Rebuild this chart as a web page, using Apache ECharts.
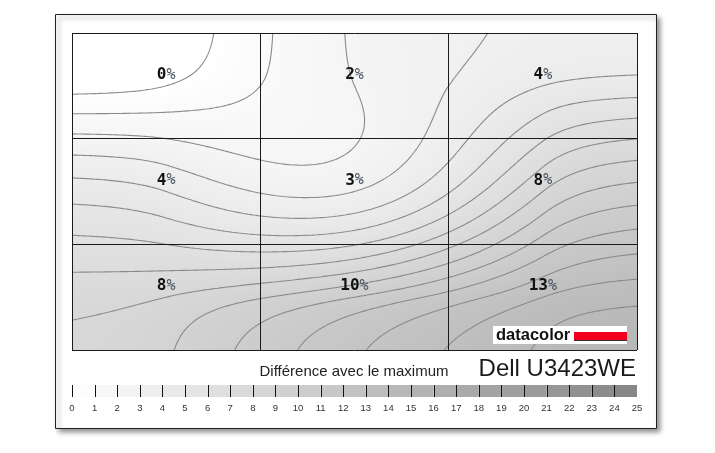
<!DOCTYPE html>
<html><head><meta charset="utf-8">
<script src="https://cdn.jsdelivr.net/npm/echarts@6/dist/echarts.min.js"></script>
<style>html,body{margin:0;padding:0;background:#fff}#c{width:715px;height:453px}</style>
</head><body><div id="c"></div>
<script>
// ---- data ----
const columnNames = ['Gauche', 'Centre', 'Droite'];
const rowNames = ['Haut', 'Milieu', 'Bas'];
const rowTop = [0, 2, 4];
const rowMiddle = [4, 3, 8];
const rowBottom = [8, 10, 13];
const contourLevels = [0, 1, 2, 3, 4, 5, 6, 7, 8, 9, 10, 11, 12, 13, 14, 15];
const scaleTicks = [0, 1, 2, 3, 4, 5, 6, 7, 8, 9, 10, 11, 12, 13, 14, 15, 16, 17, 18, 19, 20, 21, 22, 23, 24, 25];
const scaleSteps = [0, 1, 2, 3, 4, 5, 6, 7, 8, 9, 10, 11, 12, 13, 14, 15, 16, 17, 18, 19, 20, 21, 22, 23, 24];
const titleText = 'Différence avec le maximum';
const modelText = 'Dell U3423WE';
const brandText = 'datacolor';

const table = [rowTop, rowMiddle, rowBottom];
const cellData = [];
table.forEach((row, r) => row.forEach((v, c) => cellData.push([c, r, v])));

// smooth surface through the 9 measured cell centres (rendering only):
// natural cubic spline per axis, smoothly saturating extrapolation to the edges
const SAT = 0.25;
function sat(t) { return SAT * (1 - Math.exp(-t / SAT)); } // t >= 0, slope 1 at 0
function interp(y, x) {
  const t = x - 0.5;
  const M = 1.5 * (y[0] - 2 * y[1] + y[2]);
  if (t < 0) { const s0 = (y[1] - y[0]) - M / 6; return y[0] - s0 * sat(-t); }
  if (t > 2) { const s2 = (y[2] - y[1]) + M / 6; return y[2] + s2 * sat(t - 2); }
  if (t <= 1) return (1 - t) * y[0] + t * y[1] + (M / 6) * (t * t * t - t);
  const u = 1 - (t - 1);
  return u * y[1] + (1 - u) * y[2] + (M / 6) * (u * u * u - u);
}
function field(x, y) {
  return interp([interp(table[0], x), interp(table[1], x), interp(table[2], x)], y);
}
function grayOf(v) { return Math.max(0, Math.min(255, Math.round(255 - 4.9 * v))); }

function renderCell(params, api) {
  const c = api.value(0), r = api.value(1);
  const p0 = api.coord([c, r]), p1 = api.coord([c + 1, r + 1]);
  const x = Math.round(p0[0]), y = Math.round(p0[1]);
  const w = Math.round(p1[0]) - x, h = Math.round(p1[1]) - y;
  const cv = document.createElement('canvas'); cv.width = w; cv.height = h;
  const ctx = cv.getContext('2d'); const img = ctx.createImageData(w, h);
  for (let j = 0; j < h; j++) for (let i = 0; i < w; i++) {
    const g = grayOf(field(c + (i + 0.5) / w, r + (j + 0.5) / h));
    const k = (j * w + i) * 4; img.data[k] = g; img.data[k + 1] = g; img.data[k + 2] = g; img.data[k + 3] = 255;
  }
  ctx.putImageData(img, 0, 0);
  return { type: 'image', style: { image: cv, x: x, y: y, width: w, height: h } };
}

const NX = 240, NY = 140;
let samples = null;
function getSamples() {
  if (samples) return samples;
  samples = [];
  for (let j = 0; j <= NY; j++) { const row = []; for (let i = 0; i <= NX; i++) row.push(field(3 * i / NX, 3 * j / NY)); samples.push(row); }
  return samples;
}
function renderContour(params, api) {
  const L = api.value(0);
  const S = getSamples();
  const o = api.coord([0, 0]), e = api.coord([3, 3]);
  const sx = (e[0] - o[0]) / NX, sy = (e[1] - o[1]) / NY;
  const P = (i, j) => [o[0] + i * sx, o[1] + j * sy];
  let d = '';
  const f = (a, b) => (L - a) / (b - a);
  for (let j = 0; j < NY; j++) for (let i = 0; i < NX; i++) {
    const v0 = S[j][i], v1 = S[j][i + 1], v2 = S[j + 1][i + 1], v3 = S[j + 1][i];
    const pts = {};
    if ((v0 >= L) !== (v1 >= L)) pts.e0 = P(i + f(v0, v1), j);
    if ((v1 >= L) !== (v2 >= L)) pts.e1 = P(i + 1, j + f(v1, v2));
    if ((v3 >= L) !== (v2 >= L)) pts.e2 = P(i + f(v3, v2), j + 1);
    if ((v0 >= L) !== (v3 >= L)) pts.e3 = P(i, j + f(v0, v3));
    const keys = Object.keys(pts);
    let pairs = [];
    if (keys.length === 2) pairs = [[keys[0], keys[1]]];
    else if (keys.length === 4) {
      const m = (v0 + v1 + v2 + v3) / 4;
      if ((m >= L) === (v0 >= L)) pairs = [['e0', 'e1'], ['e3', 'e2']];
      else pairs = [['e0', 'e3'], ['e1', 'e2']];
    }
    pairs.forEach(pp => {
      const a = pts[pp[0]], b = pts[pp[1]];
      d += 'M' + a[0].toFixed(2) + ' ' + a[1].toFixed(2) + 'L' + b[0].toFixed(2) + ' ' + b[1].toFixed(2);
    });
  }
  if (!d) return null;
  return { type: 'path', shape: { pathData: d }, style: { stroke: '#8a8a8a', lineWidth: 1.1, fill: null } };
}

function renderLabel(params, api) {
  const c = api.value(0), r = api.value(1), v = api.value(2);
  const p = api.coord([c + 0.5, r + 0.5]);
  return { type: 'text', style: {
    text: '{n|' + v + '}{p|%}', x: p[0], y: p[1] - 11, align: 'center', verticalAlign: 'middle',
    rich: {
      n: { fontFamily: 'DejaVu Sans Mono', fontWeight: 'bold', fontSize: 16, fill: '#111' },
      p: { fontFamily: 'DejaVu Sans Mono', fontWeight: 'normal', fontSize: 15, fill: '#4a5260' }
    }
  } };
}

function renderStep(params, api) {
  const i = api.value(0);
  const p0 = api.coord([i, 1]), p1 = api.coord([i + 1, 0]);
  const g = grayOf(i + 0.5);
  return { type: 'group', children: [
    { type: 'rect', shape: { x: p0[0], y: p0[1], width: p1[0] - p0[0], height: p1[1] - p0[1] },
      style: { fill: 'rgb(' + g + ',' + g + ',' + g + ')' } },
    { type: 'line', shape: { x1: Math.round(p0[0]) + 0.5, y1: p0[1], x2: Math.round(p0[0]) + 0.5, y2: p1[1] },
      style: { stroke: '#111', lineWidth: 1 } }
  ] };
}

const chart = echarts.init(document.getElementById('c'), null, { renderer: 'canvas' });
chart.setOption({
  animation: false,
  backgroundColor: '#fff',
  graphic: [
    { type: 'rect', z: -10, shape: { x: 55.5, y: 14.5, width: 601, height: 414 },
      style: { fill: '#fff', stroke: '#222', lineWidth: 1, shadowBlur: 5, shadowOffsetX: 3, shadowOffsetY: 3, shadowColor: 'rgba(0,0,0,0.45)' } },
    { type: 'rect', z: 100, shape: { x: 493, y: 326, width: 134, height: 18 }, style: { fill: '#fff' } },
    { type: 'text', z: 101, style: { text: brandText, x: 496, y: 335.5, verticalAlign: 'middle', fontFamily: 'Liberation Sans', fontWeight: 'bold', fontSize: 16.5, fill: '#111' } },
    { type: 'rect', z: 101, shape: { x: 574, y: 332, width: 53, height: 8 }, style: { fill: '#f0001c' } },
    { type: 'rect', z: 101, shape: { x: 574, y: 340, width: 53, height: 1 }, style: { fill: '#333' } },
    { type: 'text', z: 100, style: { text: titleText, x: 354, y: 372, align: 'center', verticalAlign: 'middle', fontFamily: 'Liberation Sans', fontSize: 15, fill: '#222' } },
    { type: 'text', z: 100, style: { text: modelText, x: 636, y: 369, align: 'right', verticalAlign: 'middle', fontFamily: 'Liberation Sans', fontSize: 24, fill: '#1a1a1a' } }
  ],
  grid: [
    { left: 72, top: 33, width: 565, height: 317 },
    { left: 72, top: 385, width: 565, height: 12 }
  ],
  xAxis: [
    { gridIndex: 0, type: 'value', min: 0, max: 3, interval: 1, z: 10,
      axisLabel: { show: false }, axisTick: { show: false }, axisLine: { show: false },
      splitLine: { show: true, lineStyle: { color: '#1a1a1a', width: 1 } } },
    { gridIndex: 1, type: 'value', min: 0, max: 25, interval: 1,
      axisLine: { show: false }, axisTick: { show: false }, splitLine: { show: false },
      axisLabel: { fontFamily: 'Liberation Sans', fontSize: 9.5, color: '#333', margin: 6, showMinLabel: true, showMaxLabel: true,
        formatter: v => String(scaleTicks[Math.round(v)]) } }
  ],
  yAxis: [
    { gridIndex: 0, type: 'value', min: 0, max: 3, interval: 1, inverse: true, z: 10,
      axisLabel: { show: false }, axisTick: { show: false }, axisLine: { show: false },
      splitLine: { show: true, lineStyle: { color: '#1a1a1a', width: 1 } } },
    { gridIndex: 1, type: 'value', min: 0, max: 1, show: false }
  ],
  series: [
    { type: 'custom', name: 'cells', xAxisIndex: 0, yAxisIndex: 0, z: 2, data: cellData, renderItem: renderCell, silent: true },
    { type: 'custom', name: 'contours', xAxisIndex: 0, yAxisIndex: 0, z: 3, data: contourLevels.map(v => [v]), renderItem: renderContour, silent: true },
    { type: 'custom', name: 'labels', xAxisIndex: 0, yAxisIndex: 0, z: 4, data: cellData, renderItem: renderLabel, silent: true },
    { type: 'custom', name: 'scale', xAxisIndex: 1, yAxisIndex: 1, z: 2, data: scaleSteps.map(v => [v]), renderItem: renderStep, silent: true }
  ]
});
</script></body></html>
